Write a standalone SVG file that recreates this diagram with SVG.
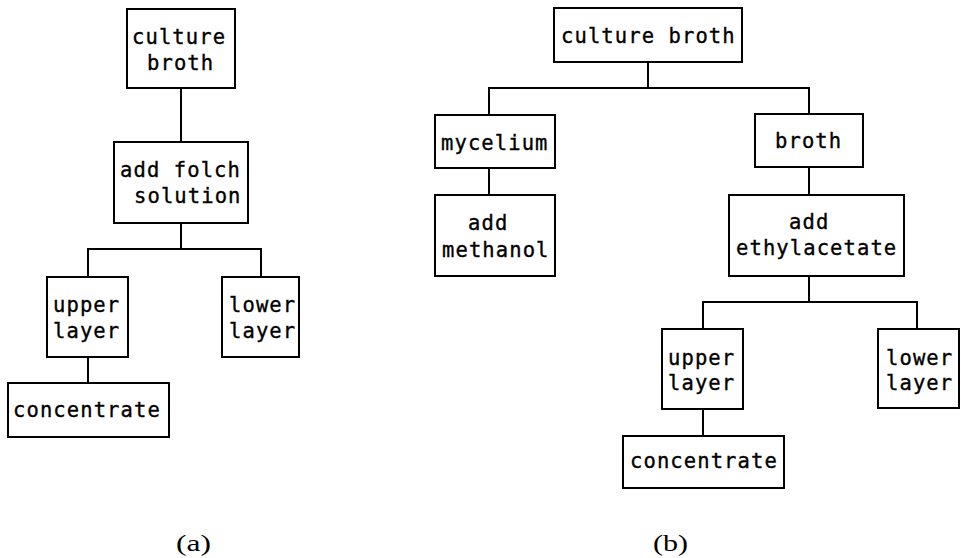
<svg xmlns="http://www.w3.org/2000/svg" width="961" height="558" viewBox="0 0 961 558">
<style>
.box{fill:#fff;stroke:#000;stroke-width:2}
.t{font-family:"DejaVu Sans Mono","Liberation Mono",monospace;font-size:20.5px;letter-spacing:1.1px;fill:#000;stroke:#000;stroke-width:0.35}
.cap{font-family:"Liberation Serif",serif;font-size:24px;fill:#000}
.c{fill:none;stroke:#000;stroke-width:2}
</style>
<rect width="961" height="558" fill="#fff"/>
<g id="connectors">
<path class="c" d="M181,88V142M181,223V249M88,277V249H261V277M88,357V383"/>
<path class="c" d="M648,62V88M489,115V88H809V114M489,168V195M809,167V195M809,276V302M703,329V302H917V329M703,409V436"/>
</g>
<g id="a-culture-broth"><rect class="box" x="127" y="9" width="108" height="79"/><text class="t" x="132" y="44">culture</text><text class="t" x="147" y="70">broth</text></g>
<g id="a-add-folch"><rect class="box" x="114" y="142" width="134" height="81"/><text class="t" x="120" y="177">add folch</text><text class="t" x="134" y="203">solution</text></g>
<g id="a-upper-layer"><rect class="box" x="47" y="277" width="81" height="80"/><text class="t" x="53" y="312">upper</text><text class="t" x="53" y="338">layer</text></g>
<g id="a-lower-layer"><rect class="box" x="222" y="277" width="77" height="80"/><text class="t" x="229" y="312">lower</text><text class="t" x="229" y="338">layer</text></g>
<g id="a-concentrate"><rect class="box" x="8" y="383" width="161" height="54"/><text class="t" x="13" y="417">concentrate</text></g>
<g id="b-culture-broth"><rect class="box" x="554" y="8" width="188" height="54"/><text class="t" x="561" y="43">culture broth</text></g>
<g id="b-mycelium"><rect class="box" x="435" y="115" width="120" height="53"/><text class="t" x="441" y="150">mycelium</text></g>
<g id="b-add-methanol"><rect class="box" x="435" y="195" width="120" height="81"/><text class="t" x="468" y="230">add</text><text class="t" x="442" y="257">methanol</text></g>
<g id="b-broth"><rect class="box" x="755" y="114" width="108" height="53"/><text class="t" x="775" y="148">broth</text></g>
<g id="b-add-ethylacetate"><rect class="box" x="729" y="195" width="175" height="81"/><text class="t" x="789" y="229">add</text><text class="t" x="736" y="255">ethylacetate</text></g>
<g id="b-upper-layer"><rect class="box" x="662" y="329" width="81" height="80"/><text class="t" x="668" y="365">upper</text><text class="t" x="668" y="390">layer</text></g>
<g id="b-lower-layer"><rect class="box" x="878" y="329" width="81" height="79"/><text class="t" x="886" y="365">lower</text><text class="t" x="886" y="390">layer</text></g>
<g id="b-concentrate"><rect class="box" x="623" y="436" width="161" height="52"/><text class="t" x="630" y="468">concentrate</text></g>
<text class="cap" x="176" y="551" textLength="35" lengthAdjust="spacingAndGlyphs">(a)</text>
<text class="cap" x="653" y="551" textLength="35" lengthAdjust="spacingAndGlyphs">(b)</text>
</svg>
